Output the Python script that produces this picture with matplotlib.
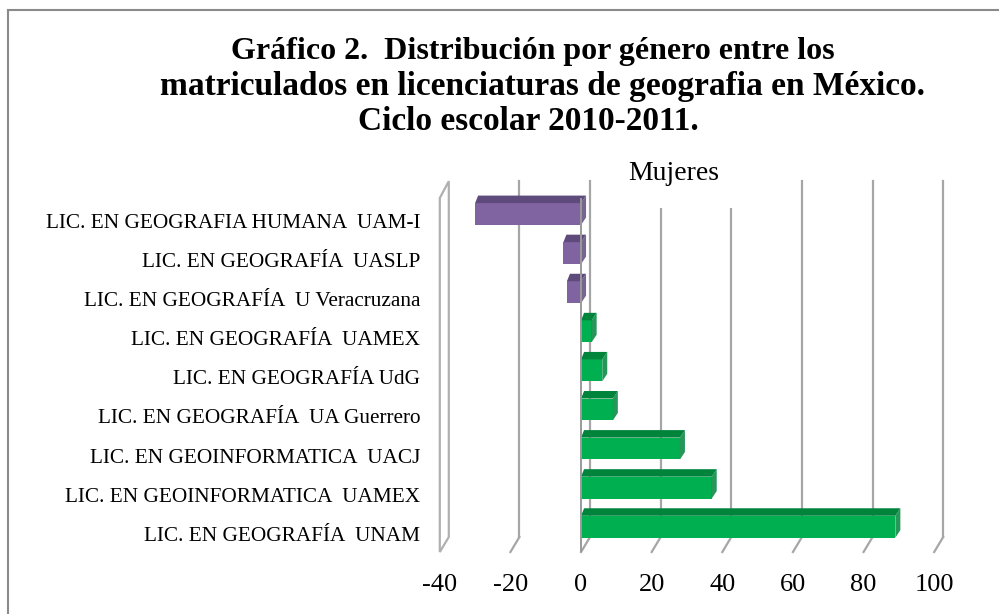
import matplotlib
matplotlib.use("Agg")
import matplotlib.pyplot as plt
from matplotlib.patches import Polygon, Rectangle
import numpy as np

# ---- data ----
categories = [
    "LIC. EN GEOGRAFIA HUMANA  UAM-I",
    "LIC. EN GEOGRAFÍA  UASLP",
    "LIC. EN GEOGRAFÍA  U Veracruzana",
    "LIC. EN GEOGRAFÍA  UAMEX",
    "LIC. EN GEOGRAFÍA UdG",
    "LIC. EN GEOGRAFÍA  UA Guerrero",
    "LIC. EN GEOINFORMATICA  UACJ",
    "LIC. EN GEOINFORMATICA  UAMEX",
    "LIC. EN GEOGRAFÍA  UNAM",
]
values = [-30, -5, -4, 3, 6, 9, 28, 37, 89]
xticks = [-40, -20, 0, 20, 40, 60, 80, 100]
title_lines = ["Gráfico 2.  Distribución por género entre los",
               "matriculados en licenciaturas de geografia en México.",
               "Ciclo escolar 2010-2011."]
series_title = "Mujeres"

plt.rcParams["font.family"] = ["Liberation Serif", "DejaVu Serif"]
W, H = 999, 614
fig = plt.figure(figsize=(W / 100, H / 100), dpi=100)
fig.patch.set_facecolor("white")

# outer border (top and left visible)
fig.patches.append(Rectangle((8 / W, -0.1), 1.2, 1 - 10 / H + 0.1, transform=fig.transFigure,
                             fill=False, edgecolor="#8a8a8a", lw=1.5))

# front plane of the pseudo-3D chart
x0, x1 = 439.8, 934.2
yb, yt = 552, 198
ax = fig.add_axes([x0 / W, 1 - yb / H, (x1 - x0) / W, (yb - yt) / H])
ax.set_xlim(-40, 100)
ylo, yhi = -0.647, 8.41
ax.set_ylim(ylo, yhi)
for s in ax.spines.values():
    s.set_visible(False)
ax.set_facecolor("none")

pxx = (x1 - x0) / 140.0          # px per unit
pxy = (yb - yt) / (yhi - ylo)     # px per row
ddx, ddy = 9 / pxx, 15 / pxy      # wall depth in data units
bdx, bdy = 5 / pxx, 7.5 / pxy     # bar depth in data units

n = len(categories)
rows = np.arange(n)[::-1]  # first category on top

# back wall gridlines + floor diagonals
grid_c = "#a6a6a6"
for t in xticks:
    if t == -40:
        continue
    ax.plot([t + ddx, t + ddx], [ylo + ddy, 8.84], color=grid_c, lw=1.6, zorder=1, clip_on=False)
    ax.plot([t, t + ddx], [ylo, ylo + ddy], color=grid_c, lw=1.6, zorder=1, clip_on=False)

# left side wall
wall = Polygon([(-40, ylo), (-40, yhi), (-40 + ddx, 8.84), (-40 + ddx, ylo + ddy)],
               closed=True, facecolor="white", edgecolor="#b0b0b0", lw=1.6, zorder=1, clip_on=False)
ax.add_patch(wall)

# series title with white box covering gridlines
fig.text(674 / W, 1 - 180 / H, series_title, ha="center", va="baseline", fontsize=20,
         zorder=5, bbox=dict(boxstyle="square", facecolor="white", edgecolor="none", pad=0.8))

bh = 0.56
for r, v in zip(rows, values):
    if v < 0:
        front, top = "#8064A2", "#5F4A7C"
    else:
        front, top = "#00B050", "#00843C"
    lo, hi = min(0, v), max(0, v)
    ax.add_patch(Rectangle((lo, r - bh / 2), hi - lo, bh, facecolor=front, edgecolor="none", zorder=3))
    ax.add_patch(Polygon([(lo, r + bh / 2), (hi, r + bh / 2), (hi + bdx, r + bh / 2 + bdy),
                          (lo + bdx * 0.6, r + bh / 2 + bdy)], closed=True,
                         facecolor=top, edgecolor="none", zorder=3, clip_on=False))
    ax.add_patch(Polygon([(hi, r - bh / 2), (hi, r + bh / 2), (hi + bdx, r + bh / 2 + bdy),
                          (hi + bdx, r - bh / 2 + bdy)], closed=True,
                         facecolor=top, edgecolor="none", zorder=3, alpha=0.85, clip_on=False))

# front zero line
ax.plot([0, 0], [ylo, yhi], color="#9a9a9a", lw=1.4, zorder=4)

ax.set_xticks(xticks)
ax.set_xticklabels([str(t) for t in xticks], fontsize=19)
ax.tick_params(axis="x", length=0, pad=16)
ax.set_yticks(rows - 7 / pxy)
ax.set_yticklabels(categories, fontsize=15.3)
ax.tick_params(axis="y", length=0, pad=14)

# title, one text per line as laid out in the original
for line, xl, base, fs in zip(title_lines, [231, 160, 358], [59.3, 94.5, 130], [23, 24, 24]):
    fig.text(xl / W, 1 - base / H, line, ha="left", va="baseline", fontsize=fs,
             fontweight="bold")

fig.savefig("out.png", dpi=100)
